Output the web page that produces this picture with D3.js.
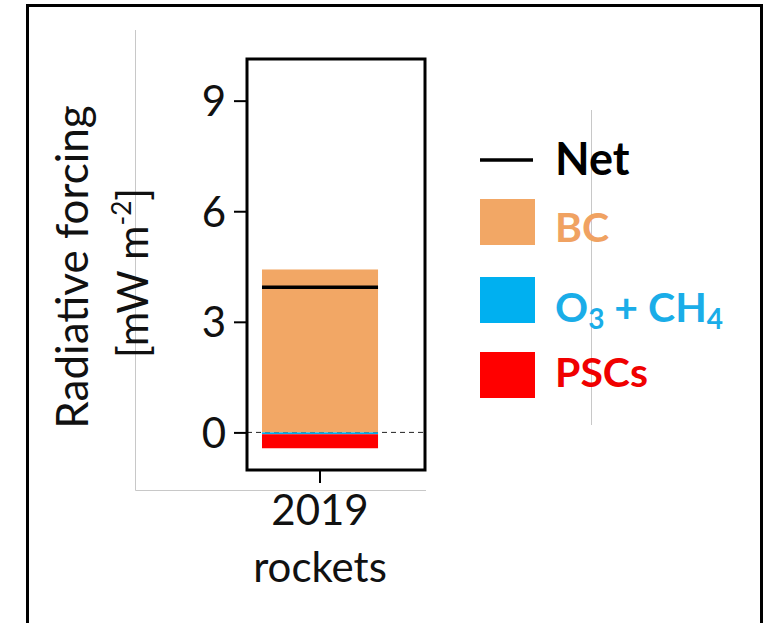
<!DOCTYPE html>
<html>
<head>
<meta charset="utf-8">
<script src="https://cdn.jsdelivr.net/npm/d3@7"></script>
<style>
  html, body { margin: 0; padding: 0; background: #fff; }
  svg { display: block; }
  text { font-family: Lato, "Open Sans", sans-serif; }
</style>
</head>
<body>
<svg id="chart" width="769" height="623"></svg>
<script>
// ---- data ----
const categories = ["2019 rockets"];
const categoryLines = ["2019", "rockets"];
const bcValues = [4.42];
const o3ch4Values = [-0.05];
const pscValues = [-0.38];
const netValues = [3.94];
const yTicks = [0, 3, 6, 9];
const seriesKeys = ["BC", "O3CH4", "PSCs"];
const seriesColors = { BC: "#F2A765", O3CH4: "#00B0F0", PSCs: "#FF0000" };
const legendItems = [
  { key: "Net", type: "line", color: "#000000", textColor: "#000000" },
  { key: "BC", type: "rect", color: "#F2A765", textColor: "#F0A262" },
  { key: "O3CH4", type: "rect", color: "#00B0F0", textColor: "#1AADE8" },
  { key: "PSCs", type: "rect", color: "#FF0000", textColor: "#F00000" }
];

const svg = d3.select("#chart");

// outer frame (open at bottom)
svg.append("path")
  .attr("d", "M27.5,623 V5.5 H761.5 V623")
  .attr("fill", "none").attr("stroke", "#000").attr("stroke-width", 3);

// light grey guide lines
svg.append("path")
  .attr("d", "M135.5,30 V490.5 H426")
  .attr("fill", "none").attr("stroke", "#c8c8c8").attr("stroke-width", 1);
svg.append("line")
  .attr("x1", 591.5).attr("x2", 591.5).attr("y1", 110).attr("y2", 425)
  .attr("stroke", "#c8c8c8").attr("stroke-width", 1);

const plot = { left: 247, right: 425, top: 59, bottom: 470 };

const x = d3.scaleBand().domain(categories)
  .range([plot.left, plot.right])
  .paddingInner(0).paddingOuter(0.267).align(0.242);
const y = d3.scaleLinear().domain([-1.02, 10.13]).range([plot.bottom, plot.top]);

const rows = categories.map((c, i) => ({ cat: c, BC: bcValues[i], O3CH4: o3ch4Values[i], PSCs: pscValues[i] }));
const stacked = d3.stack().keys(seriesKeys).offset(d3.stackOffsetDiverging)(rows);

// zero dashed line
svg.append("line")
  .attr("x1", plot.left).attr("x2", plot.right)
  .attr("y1", y(0)).attr("y2", y(0))
  .attr("stroke", "#222").attr("stroke-width", 1).attr("stroke-dasharray", "5,4");

// bars
svg.append("g").selectAll("g").data(stacked).join("g")
  .attr("fill", d => seriesColors[d.key])
  .selectAll("rect").data(d => d).join("rect")
  .attr("x", d => x(d.data.cat))
  .attr("width", x.bandwidth())
  .attr("y", d => y(Math.max(d[0], d[1])))
  .attr("height", d => Math.abs(y(d[0]) - y(d[1])));

// net line
svg.append("g").selectAll("line").data(categories).join("line")
  .attr("x1", c => x(c)).attr("x2", c => x(c) + x.bandwidth())
  .attr("y1", (c, i) => y(netValues[i])).attr("y2", (c, i) => y(netValues[i]))
  .attr("stroke", "#000").attr("stroke-width", 3.5);

// axes
const yAxis = d3.axisLeft(y).tickValues(yTicks).tickSize(13).tickPadding(8).tickFormat(d3.format("d"));
const gy = svg.append("g").attr("transform", `translate(${plot.left},0)`).call(yAxis);
gy.select(".domain").remove();
gy.selectAll(".tick line").attr("stroke", "#000").attr("stroke-width", 2);
gy.selectAll(".tick text").attr("font-size", 42).attr("fill", "#111").attr("dy", "0.36em");

const xAxis = d3.axisBottom(x).tickSize(13).tickFormat(() => "");
const gx = svg.append("g").attr("transform", `translate(0,${plot.bottom})`).call(xAxis);
gx.select(".domain").remove();
gx.selectAll(".tick line").attr("stroke", "#000").attr("stroke-width", 2);
gx.selectAll(".tick").each(function() {
  const t = d3.select(this).append("text").attr("text-anchor", "middle")
    .attr("font-size", 42).attr("fill", "#111");
  categoryLines.forEach((s, i) => t.append("tspan").attr("x", 0).attr("y", 55 + i * 57).text(s));
});

// plot frame
svg.append("rect")
  .attr("x", plot.left).attr("y", plot.top)
  .attr("width", plot.right - plot.left).attr("height", plot.bottom - plot.top)
  .attr("fill", "none").attr("stroke", "#000").attr("stroke-width", 3);

// y label
svg.append("text")
  .attr("transform", "translate(88,267) rotate(-90)")
  .attr("text-anchor", "middle").attr("font-size", 44).attr("fill", "#111")
  .text("Radiative forcing");
const yl2 = svg.append("text")
  .attr("transform", "translate(148,273) rotate(-90)")
  .attr("text-anchor", "middle").attr("font-size", 42).attr("fill", "#111");
yl2.append("tspan").text("[mW m");
yl2.append("tspan").attr("font-size", 26).attr("dy", -17).text("-2");
yl2.append("tspan").attr("dy", 17).text("]");

// legend
const legendY = [160, 222, 300, 375];
const legendTextY = [175, 242, 322, 387];
const lg = svg.append("g");
legendItems.forEach((it, i) => {
  const cy = legendY[i];
  if (it.type === "line") {
    lg.append("line").attr("x1", 480).attr("x2", 533).attr("y1", cy).attr("y2", cy)
      .attr("stroke", it.color).attr("stroke-width", 3.5);
  } else {
    lg.append("rect").attr("x", 480).attr("y", cy - 23).attr("width", 55).attr("height", 46)
      .attr("fill", it.color);
  }
  const t = lg.append("text").attr("x", 555).attr("y", legendTextY[i])
    .attr("font-size", it.key === "Net" ? 45 : 41).attr("font-weight", "bold").attr("fill", it.textColor);
  if (it.key === "O3CH4") {
    t.append("tspan").text("O");
    t.append("tspan").attr("font-size", 28).attr("dy", 7).text("3");
    t.append("tspan").attr("dy", -7).text(" + CH");
    t.append("tspan").attr("font-size", 28).attr("dy", 7).text("4");
  } else {
    t.text(it.key);
  }
});
</script>
</body>
</html>
